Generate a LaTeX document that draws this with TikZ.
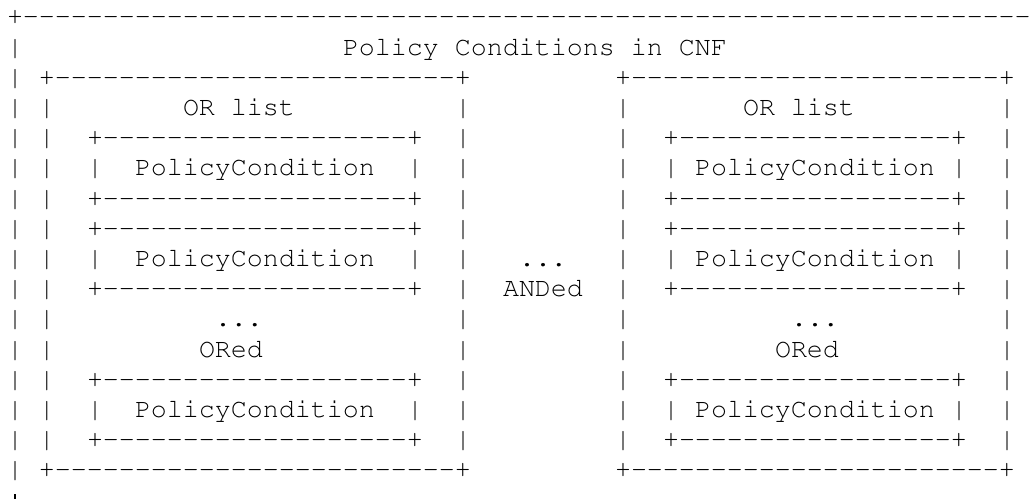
\documentclass[tikz,border=0pt]{standalone}
\usepackage[T1]{fontenc}
\usepackage{courier}
\newcount\dcnt
\newcommand\dashrun[1]{\dcnt=#1\relax\loop\ifnum\dcnt>0 -{}\advance\dcnt by -1\repeat}
\newcommand\putrun[3]{\node[asc] (r#1c#2) at ({7+16*#2},{24.8+30.2*#1}) {#3};}
\newcommand\sides[1]{\putrun{#1}{0}{|}\putrun{#1}{2}{|}\putrun{#1}{28}{|}\putrun{#1}{38}{|}\putrun{#1}{62}{|}}
\newcommand\inneredge[1]{\sides{#1}\putrun{#1}{5}{+\dashrun{19}+}\putrun{#1}{41}{+\dashrun{17}+}}
\newcommand\innertext[1]{\sides{#1}\putrun{#1}{5}{|}\putrun{#1}{8}{PolicyCondition}\putrun{#1}{25}{|}\putrun{#1}{41}{|}\putrun{#1}{43}{PolicyCondition}\putrun{#1}{59}{|}}
\begin{document}
\begin{tikzpicture}[x=0.5pt,y=-0.5pt,
  asc/.style={anchor=base west,inner sep=0pt,outer sep=0pt,
    font=\fontsize{13.33pt}{15pt}\selectfont\ttfamily},
  stub/.style={line width=0.7pt}]
\fill[white] (0,0) rectangle (1034,499);
\useasboundingbox (0,0) rectangle (1034,499);
% row 0
\putrun{0}{0}{+\dashrun{63}}
% row 1
\putrun{1}{0}{|}
\putrun{1}{21}{Policy Conditions in CNF}
% row 2
\putrun{2}{0}{|}
\putrun{2}{2}{+\dashrun{25}+}
\putrun{2}{38}{+\dashrun{23}+}
% row 3
\sides{3}
\putrun{3}{11}{OR list}
\putrun{3}{46}{OR list}
% rows 4-9
\inneredge{4}
\innertext{5}
\inneredge{6}
\inneredge{7}
\innertext{8}
\putrun{8}{32}{...}
\inneredge{9}
\putrun{9}{31}{ANDed}
% rows 10-11
\sides{10}
\putrun{10}{13}{...}
\putrun{10}{49}{...}
\sides{11}
\putrun{11}{12}{ORed}
\putrun{11}{48}{ORed}
% rows 12-14
\inneredge{12}
\innertext{13}
\inneredge{14}
% row 15
\putrun{15}{0}{|}
\putrun{15}{2}{+\dashrun{25}+}
\putrun{15}{38}{+\dashrun{23}+}
% row 16: only the top of the next bar is visible
\coordinate (stubtop) at (15,494);
\coordinate (stubbot) at (15,499);
\draw[stub] (stubtop) -- (stubbot);
\end{tikzpicture}
\end{document}
